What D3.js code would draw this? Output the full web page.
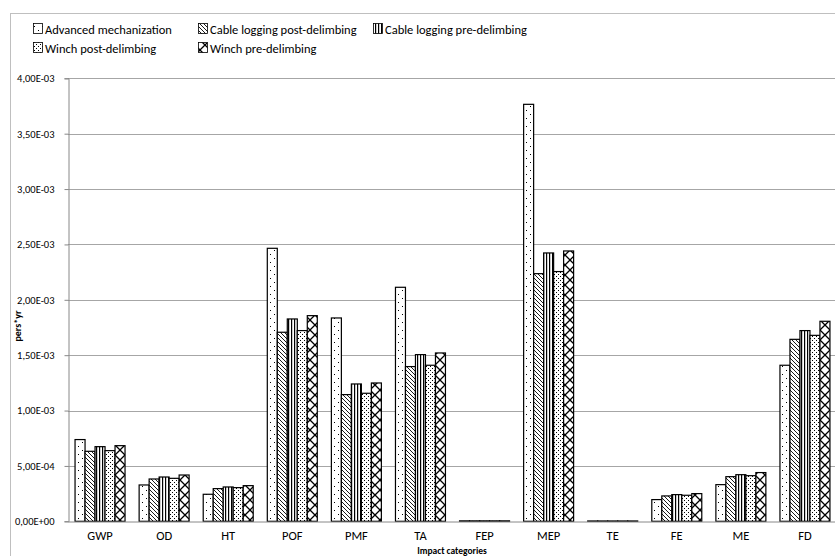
<!DOCTYPE html>
<html><head><meta charset="utf-8">
<script src="https://cdn.jsdelivr.net/npm/d3@7"></script>
<style>
body{margin:0;background:#fff;}
text{font-family:Carlito,Lato,"Liberation Sans",sans-serif;fill:#000;}
</style></head>
<body>
<svg id="c" width="835" height="556"></svg>
<script>
const categories = ["GWP","OD","HT","POF","PMF","TA","FEP","MEP","TE","FE","ME","FD"];
const seriesNames = ["Advanced mechanization","Cable logging post-delimbing","Cable logging pre-delimbing","Winch post-delimbing","Winch pre-delimbing"];
const advancedMechanization   = [0.738e-3,0.328e-3,0.244e-3,2.465e-3,1.836e-3,2.113e-3,0.004e-3,3.765e-3,0.003e-3,0.196e-3,0.331e-3,1.409e-3];
const cablePostDelimbing      = [0.632e-3,0.382e-3,0.295e-3,1.707e-3,1.144e-3,1.397e-3,0.004e-3,2.236e-3,0.003e-3,0.229e-3,0.403e-3,1.643e-3];
const cablePreDelimbing       = [0.674e-3,0.400e-3,0.310e-3,1.827e-3,1.240e-3,1.505e-3,0.004e-3,2.423e-3,0.003e-3,0.241e-3,0.421e-3,1.722e-3];
const winchPostDelimbing      = [0.638e-3,0.388e-3,0.304e-3,1.722e-3,1.156e-3,1.409e-3,0.004e-3,2.255e-3,0.003e-3,0.235e-3,0.412e-3,1.679e-3];
const winchPreDelimbing       = [0.683e-3,0.418e-3,0.322e-3,1.857e-3,1.249e-3,1.520e-3,0.004e-3,2.441e-3,0.003e-3,0.250e-3,0.440e-3,1.806e-3];
const yTicks = [0,0.5e-3,1e-3,1.5e-3,2e-3,2.5e-3,3e-3,3.5e-3,4e-3];
const yTickLabels = ["0,00E+00","5,00E-04","1,00E-03","1,50E-03","2,00E-03","2,50E-03","3,00E-03","3,50E-03","4,00E-03"];
const yTitle = "pers*yr";
const xTitle = "Impact categories";

const series = [advancedMechanization,cablePostDelimbing,cablePreDelimbing,winchPostDelimbing,winchPreDelimbing];
const patIds = ["pDots","pDiag","pVert","pDense","pDiam"];

const svg = d3.select("#c");
const defs = svg.append("defs");
// patterns
let p = defs.append("pattern").attr("id","pDots").attr("patternUnits","userSpaceOnUse").attr("width",8).attr("height",8);
p.append("rect").attr("width",8).attr("height",8).attr("fill","#fff");
p.append("rect").attr("x",2).attr("y",2).attr("width",1).attr("height",1).attr("fill","#000");
p.append("rect").attr("x",6).attr("y",6).attr("width",1).attr("height",1).attr("fill","#000");

p = defs.append("pattern").attr("id","pDiag").attr("patternUnits","userSpaceOnUse").attr("width",4).attr("height",4);
p.append("rect").attr("width",4).attr("height",4).attr("fill","#fff");
p.append("path").attr("d","M-1,-1 L5,5 M-1,3 L1,5 M3,-1 L5,1").attr("stroke","#000").attr("stroke-width",0.9);

p = defs.append("pattern").attr("id","pVert").attr("patternUnits","userSpaceOnUse").attr("width",3).attr("height",4);
p.append("rect").attr("width",3).attr("height",4).attr("fill","#fff");
p.append("rect").attr("x",0).attr("width",1.2).attr("height",4).attr("fill","#000");

p = defs.append("pattern").attr("id","pDense").attr("patternUnits","userSpaceOnUse").attr("width",4).attr("height",4);
p.append("rect").attr("width",4).attr("height",4).attr("fill","#fff");
p.append("rect").attr("x",0).attr("y",0).attr("width",1).attr("height",1).attr("fill","#000");
p.append("rect").attr("x",2).attr("y",2).attr("width",1).attr("height",1).attr("fill","#000");

p = defs.append("pattern").attr("id","pDiam").attr("patternUnits","userSpaceOnUse").attr("width",10).attr("height",10);
p.append("rect").attr("width",10).attr("height",10).attr("fill","#fff");
p.append("path").attr("d","M0,0 L10,10 M10,0 L0,10").attr("stroke","#000").attr("stroke-width",1.3);

// chart border
svg.append("rect").attr("x",10.5).attr("y",13.5).attr("width",840).attr("height",560).attr("fill","none").attr("stroke","#bfbfbf");

const y = d3.scaleLinear().domain([0,4e-3]).range([521.3,78.3]);
const x0 = d3.scaleBand().domain(categories).range([68,837]).paddingInner(0.22).paddingOuter(0.11);
const x1 = d3.scaleBand().domain(d3.range(series.length)).range([0,x0.bandwidth()]);

// gridlines
svg.append("g").selectAll("line").data(yTicks.slice(1)).join("line")
  .attr("x1",68).attr("x2",837).attr("y1",d=>Math.round(y(d))+0.5).attr("y2",d=>Math.round(y(d))+0.5)
  .attr("stroke","#a6a6a6").attr("stroke-width",1);

// y axis
const yAxis = d3.axisLeft(y).tickValues(yTicks).tickFormat((d,i)=>yTickLabels[i]).tickSize(4).tickPadding(10);
const gy = svg.append("g").attr("transform","translate(68.5,0)").call(yAxis);
gy.select(".domain").attr("stroke","#888");
gy.selectAll(".tick line").attr("stroke","#888");
gy.selectAll("text").style("font-size","10.5px").attr("fill","#000");

// bars
const g = svg.append("g");
categories.forEach((c,ci)=>{
  series.forEach((s,si)=>{
    g.append("rect")
      .attr("x",x0(c)+x1(si))
      .attr("y",y(s[ci]))
      .attr("width",x1.bandwidth())
      .attr("height",y(0)-y(s[ci]))
      .attr("fill","url(#"+patIds[si]+")")
      .attr("stroke","#000").attr("stroke-width",1.2);
  });
});

// x axis
const xAxis = d3.axisBottom(x0).tickSize(0).tickPadding(10);
const gx = svg.append("g").attr("transform","translate(0,"+(Math.round(y(0))+0.5)+")").call(xAxis);
gx.select(".domain").attr("stroke","#888");
gx.selectAll("text").style("font-size","12.5px").attr("fill","#000");

// axis titles
svg.append("text").attr("x",452).attr("y",553.5).attr("text-anchor","middle")
  .style("font-size","9.5px").style("font-weight","bold").text(xTitle);
svg.append("text").attr("transform","translate(21,326) rotate(-90)").attr("text-anchor","middle")
  .style("font-size","10px").style("font-weight","bold").text(yTitle);

// legend
const legendPos = [[33,29],[198,29],[373,29],[33,48],[198,48]];
seriesNames.forEach((n,i)=>{
  const [lx,ly] = legendPos[i];
  svg.append("rect").attr("x",lx+0.5).attr("y",ly-5.5).attr("width",9).attr("height",10)
    .attr("fill","url(#"+patIds[i]+")").attr("stroke","#000").attr("stroke-width",0.8);
  svg.append("text").attr("x",lx+12).attr("y",ly+5).style("font-size","12.5px").text(n);
});
</script>
</body></html>
